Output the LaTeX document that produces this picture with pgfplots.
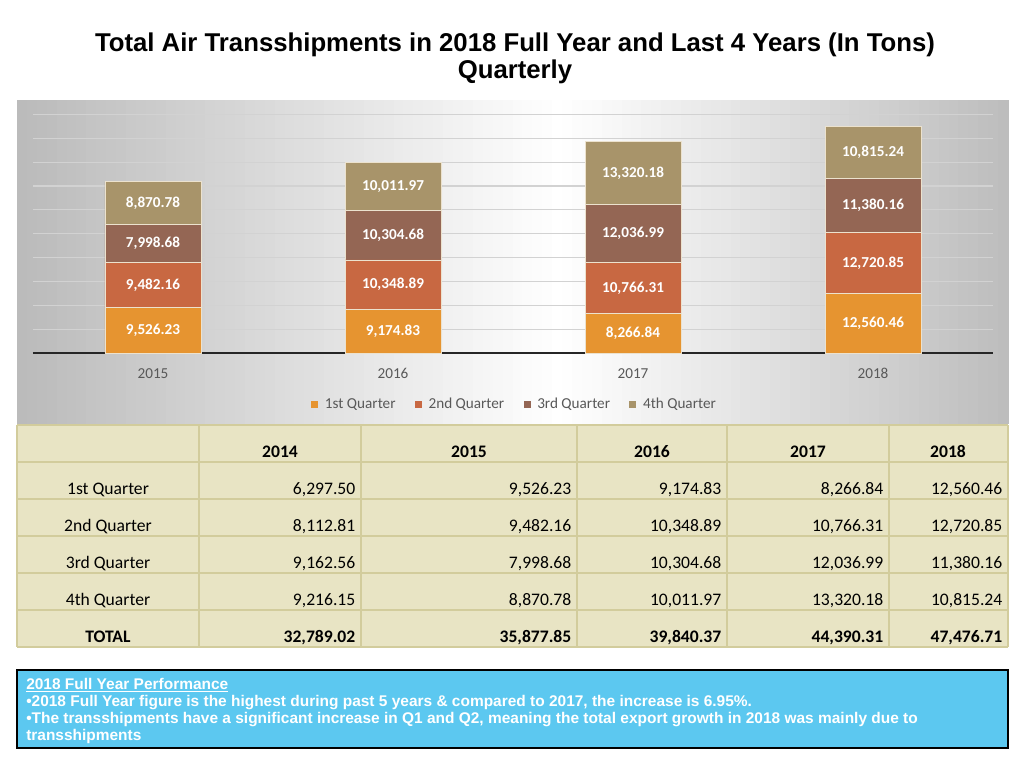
\documentclass[border=0pt]{standalone}
\usepackage{pgfplots}
\usepackage{pgfplotstable}
\pgfplotsset{compat=1.18}
\usepackage{fontspec}
\setmainfont{Carlito}
\newfontfamily\arialfont{Liberation Sans}
\definecolor{qone}{RGB}{230,148,48}
\definecolor{qtwo}{RGB}{200,104,66}
\definecolor{qthree}{RGB}{148,102,84}
\definecolor{qfour}{RGB}{168,148,106}
\definecolor{sepcol}{RGB}{236,226,206}
\definecolor{tabfill}{RGB}{232,228,196}
\definecolor{tabline}{RGB}{210,204,156}
\definecolor{boxfill}{RGB}{92,200,240}
\definecolor{ticktext}{RGB}{89,89,89}
\pgfplotstableread{
x q1 q2 q3 q4
0 9526.23 9482.16 7998.68 8870.78
1 9174.83 10348.89 10304.68 10011.97
2 8266.84 10766.31 12036.99 13320.18
3 12560.46 12720.85 11380.16 10815.24
}\datatable
\newcommand{\tabrow}[8]{%
  \node[anchor=base, font=#8] at (108,#1) {#2};
  \node[anchor=base east, font=#8] at (360,#1) {#3};
  \node[anchor=base east, font=#8] at (576,#1) {#4};
  \node[anchor=base east, font=#8] at (726,#1) {#5};
  \node[anchor=base east, font=#8] at (888,#1) {#6};
  \node[anchor=base east, font=#8] at (1007,#1) {#7};
}
\pgfplotsset{
  commonaxis/.style={
    at={(24.75pt,-264.975pt)}, anchor=south west,
    scale only axis, width=720pt, height=179.25pt,
    xmin=-0.5, xmax=3.5, ymin=0, ymax=50000,
    scaled y ticks=false,
  }
}
\begin{document}
\begin{tikzpicture}
\begin{scope}[x=0.75pt,y=-0.75pt]
\fill[white] (0,0) rectangle (1024,768);
\foreach \i in {0,...,99} {
  \pgfmathsetmacro{\xa}{17+9.91*\i}
  \pgfmathsetmacro{\xb}{\xa+10.5}
  \pgfmathsetmacro{\xc}{\xa+4.95}
  \pgfmathsetmacro{\k}{\xc<560 ? 27*(560-\xc)/543 : 26*(\xc-560)/448}
  \fill[black!\k] (\xa,100) rectangle (\xb,424);
}
\node[font=\arialfont\bfseries\fontsize{19.3}{23}\selectfont] at (515,45) {Total Air Transshipments in 2018 Full Year and Last 4 Years (In Tons)};
\node[font=\arialfont\bfseries\fontsize{19.3}{23}\selectfont] at (515,72) {Quarterly};
\end{scope}

\begin{axis}[
  commonaxis,
  ybar stacked, bar width=72pt,
  axis line style={draw=none},
  ytick={5000,10000,...,50000}, yticklabels={},
  ymajorgrids, grid style={draw=gray!35, line width=0.8pt},
  major tick length=0pt,
  xtick={0,1,2,3}, xticklabels={2015,2016,2017,2018},
  xticklabel style={font=\fontsize{11.4}{13}\selectfont, text=ticktext,
    text height=7.2pt, text depth=0pt, yshift=-8.5pt},
  extra y ticks={0}, extra y tick labels={},
  extra y tick style={grid style={draw=black!85, line width=1.5pt}},
  legend columns=4,
  legend style={at={(0.502,-0.215)}, anchor=center, draw=none, fill=none,
    font=\fontsize{11.4}{13}\selectfont, text=ticktext,
    /tikz/every odd column/.append style={column sep=3pt},
    /tikz/every even column/.append style={column sep=12.5pt}},
  legend image code/.code={\fill[#1, draw=none] (0pt,-2.6pt) rectangle (5.25pt,2.6pt);},
]
\addplot[fill=qone, draw=sepcol, line width=0.6pt] table[x=x, y=q1] {\datatable};
\addplot[fill=qtwo, draw=sepcol, line width=0.6pt] table[x=x, y=q2] {\datatable};
\addplot[fill=qthree, draw=sepcol, line width=0.6pt] table[x=x, y=q3] {\datatable};
\addplot[fill=qfour, draw=sepcol, line width=0.6pt] table[x=x, y=q4] {\datatable};
\legend{1st Quarter,2nd Quarter,3rd Quarter,4th Quarter}
\end{axis}

\begin{axis}[
  commonaxis,
  hide axis,
  nodes near coords,
  point meta=explicit,
  every node near coord/.append style={anchor=center,
    font=\bfseries\fontsize{11.4}{13}\selectfont, text=white},
  /pgf/number format/fixed,
  /pgf/number format/fixed zerofill,
  /pgf/number format/precision=2,
  /pgf/number format/1000 sep={,},
  /pgf/number format/assume math mode=true,
]
\addplot[draw=none, mark=none] table[x=x, y expr=\thisrow{q1}/2, meta=q1] {\datatable};
\addplot[draw=none, mark=none] table[x=x, y expr=\thisrow{q1}+\thisrow{q2}/2, meta=q2] {\datatable};
\addplot[draw=none, mark=none] table[x=x, y expr=\thisrow{q1}+\thisrow{q2}+\thisrow{q3}/2, meta=q3] {\datatable};
\addplot[draw=none, mark=none] table[x=x, y expr=\thisrow{q1}+\thisrow{q2}+\thisrow{q3}+\thisrow{q4}/2, meta=q4] {\datatable};
\end{axis}

\begin{scope}[x=0.75pt,y=-0.75pt]
\fill[tabfill] (17,425) rectangle (1008,647);
\foreach \x in {17,199,361,577,727,889,1008} \draw[tabline, line width=1.1pt] (\x,425) -- (\x,647);
\foreach \y in {425,462,499,536,573,610,647} \draw[tabline, line width=1.1pt] (17,\y) -- (1008,\y);
\def\tf{\fontsize{13.2}{15}\selectfont}
\def\tb{\bfseries\fontsize{13.2}{15}\selectfont}
\node[anchor=base, font=\tb] at (280,457) {2014};
\node[anchor=base, font=\tb] at (469,457) {2015};
\node[anchor=base, font=\tb] at (652,457) {2016};
\node[anchor=base, font=\tb] at (808,457) {2017};
\node[anchor=base, font=\tb] at (948,457) {2018};
\tabrow{494}{1st Quarter}{6,297.50}{9,526.23}{9,174.83}{8,266.84}{12,560.46}{\tf}
\tabrow{531}{2nd Quarter}{8,112.81}{9,482.16}{10,348.89}{10,766.31}{12,720.85}{\tf}
\tabrow{568}{3rd Quarter}{9,162.56}{7,998.68}{10,304.68}{12,036.99}{11,380.16}{\tf}
\tabrow{605}{4th Quarter}{9,216.15}{8,870.78}{10,011.97}{13,320.18}{10,815.24}{\tf}
\tabrow{642}{TOTAL}{32,789.02}{35,877.85}{39,840.37}{44,390.31}{47,476.71}{\tb}

\draw[black, fill=boxfill, line width=0.8pt] (17,670) rectangle (1008,748);
\def\bxf{\arialfont\bfseries\fontsize{11.6}{13}\selectfont}
\node[anchor=base west, inner sep=0pt, text=white, font=\bxf] at (26,689) {\underline{2018 Full Year Performance}};
\node[anchor=base west, inner sep=0pt, text=white, font=\bxf] at (26,706) {\textbullet 2018 Full Year figure is the highest during past 5 years \& compared to 2017, the increase is 6.95\%.};
\node[anchor=base west, inner sep=0pt, text=white, font=\bxf] at (26,723) {\textbullet The transshipments have a significant increase in Q1 and Q2, meaning the total export growth in 2018 was mainly due to};
\node[anchor=base west, inner sep=0pt, text=white, font=\bxf] at (26,740) {transshipments};
\end{scope}
\end{tikzpicture}
\end{document}
